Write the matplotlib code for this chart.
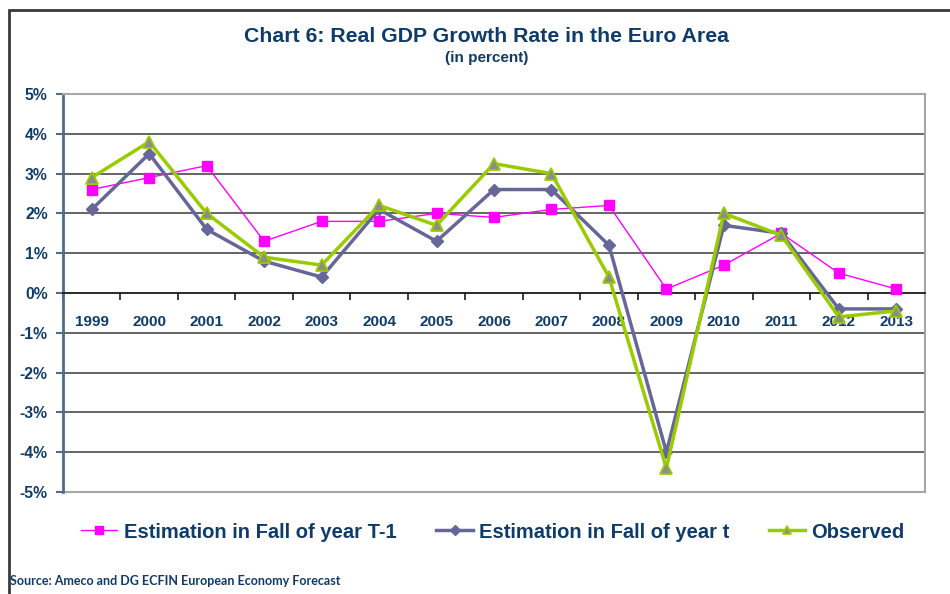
"""Chart 6: Real GDP growth rate in the euro area (forecast vs observed)."""

import numpy as np
import matplotlib.pyplot as plt
from matplotlib.patches import Rectangle

plt.rcParams['font.family'] = ['Liberation Sans', 'DejaVu Sans']

NAVY = '#0F3B6B'

years = ['1999', '2000', '2001', '2002', '2003', '2004', '2005', '2006',
         '2007', '2008', '2009', '2010', '2011', '2012', '2013']
est_t_minus_1 = [2.6, 2.9, 3.2, 1.3, 1.8, 1.8, 2.0, 1.9, 2.1, 2.2, 0.1, 0.7, 1.5, 0.5, 0.1]
est_t = [2.1, 3.5, 1.6, 0.8, 0.4, 2.1, 1.3, 2.6, 2.6, 1.2, -4.0, 1.7, 1.5, -0.4, -0.4]
observed = [2.9, 3.8, 2.0, 0.9, 0.7, 2.2, 1.7, 3.25, 3.0, 0.4, -4.4, 2.0, 1.45, -0.6, -0.45]
yticks = [-5, -4, -3, -2, -1, 0, 1, 2, 3, 4, 5]

fig = plt.figure(figsize=(9.5, 5.94), dpi=100)
ax = fig.add_axes([63 / 950, 1 - 492 / 594, 862 / 950, 398 / 594])
x = np.arange(len(years))

# gridlines
for v in yticks[1:-1]:
    if v != 0:
        ax.axhline(v, color='#3a3a3a', lw=1.1, zorder=1)
ax.axhline(-5, color='#a6a6a6', lw=1.5, zorder=1, clip_on=False)

ax.plot(x, est_t_minus_1, '-s', color='#FF00FF', lw=1, ms=6.5,
        label='Estimation in Fall of year T-1', zorder=3)
ax.plot(x, est_t, '-D', color='#666699', lw=2.5, ms=6,
        label='Estimation in Fall of year t', zorder=4)
ax.plot(x, observed, '-^', color='#99CC00', lw=2.5, ms=8, mfc='#8c8c8c',
        mec='#99CC00', mew=1.3, label='Observed', zorder=5)

ax.set_xlim(-0.5, len(years) - 0.5)
ax.set_ylim(-5, 5)

ax.spines['bottom'].set_position(('data', 0))
ax.spines['bottom'].set_color('#1a1a1a')
ax.spines['bottom'].set_linewidth(1.3)
ax.spines['left'].set_color('#4F6B8C')
ax.spines['left'].set_linewidth(2)
ax.spines['top'].set_color('#a6a6a6')
ax.spines['right'].set_color('#a6a6a6')
ax.spines['top'].set_linewidth(1.5)
ax.spines['right'].set_linewidth(1.5)

ax.set_xticks(x)
ax.set_xticklabels(years, fontsize=11, fontweight='bold', color=NAVY)
ax.set_xticks(np.arange(-0.5, len(years)), minor=True)
ax.tick_params(axis='x', which='major', length=0, pad=16)
ax.tick_params(axis='x', which='minor', length=5, color='#1a1a1a', width=1.2)

ax.set_yticks(yticks)
ax.set_yticklabels([f'{v}%' for v in yticks], fontsize=11.3, fontweight='bold', color=NAVY)
ax.tick_params(axis='y', length=5, color='#4F6B8C', width=1.5, pad=6)

fig.text(487 / 950, 1 - 36 / 594, 'Chart 6: Real GDP Growth Rate in the Euro Area',
         ha='center', va='center', fontsize=15.3, fontweight='bold', color=NAVY)
fig.text(487 / 950, 1 - 58 / 594, '(in percent)', ha='center', va='center',
         fontsize=11, fontweight='bold', color=NAVY)

fig.legend(loc='center', bbox_to_anchor=(493 / 950, 1 - 532 / 594), ncol=3,
           frameon=False, handlelength=1.8, columnspacing=2.0, handletextpad=0.3,
           prop={'size': 14.5, 'weight': 'bold'}, labelcolor=NAVY, markerscale=0.8)

fig.text(10 / 950, 1 - 581 / 594, 'Source: Ameco and DG ECFIN European Economy Forecast',
         ha='left', va='center', fontsize=9, fontweight='bold', color=NAVY,
         family=['Lato', 'DejaVu Sans'])

# outer chart frame (left and top edges visible)
fig.patches.append(Rectangle((9 / 950, -0.2), 1.2, 1.2 - 10 / 594, transform=fig.transFigure,
                             fill=False, edgecolor='#3a3a3a', lw=2))

fig.savefig('out.png', dpi=100)
